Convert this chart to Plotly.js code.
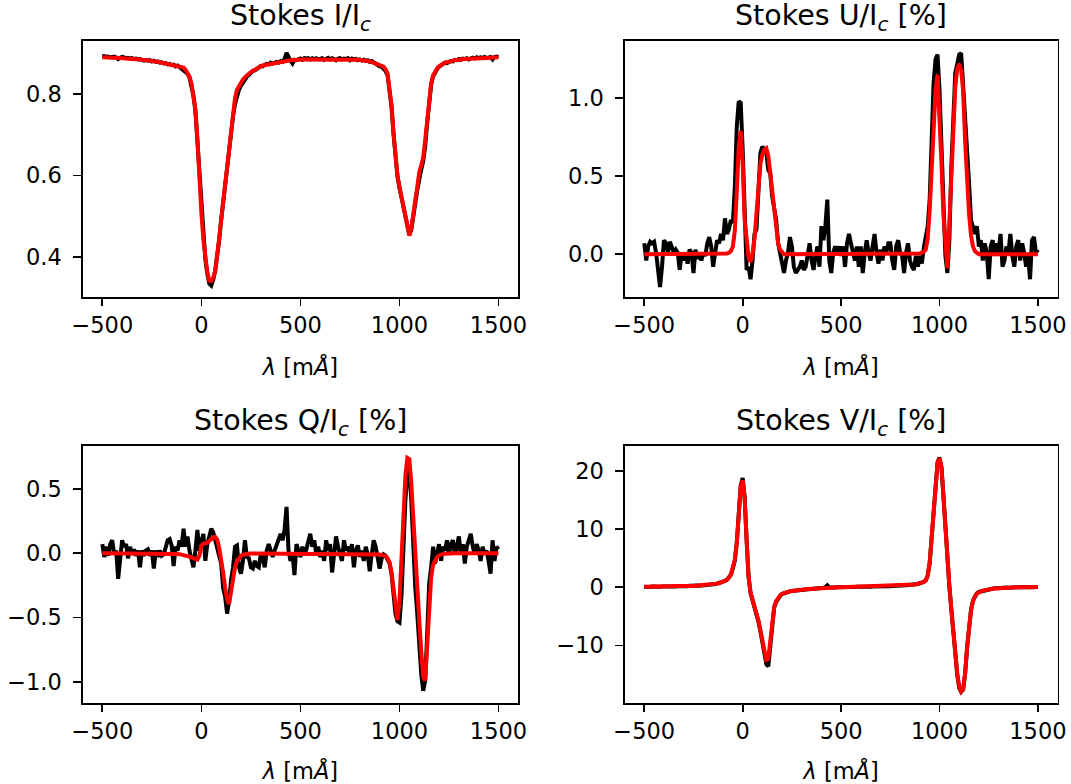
<!DOCTYPE html>
<html>
<head>
<meta charset="utf-8">
<script src="https://cdn.plot.ly/plotly-3.0.1.min.js"></script>
<style>
html,body{margin:0;padding:0;background:#fff;}
#chart{width:1071px;height:784px;}
</style>
</head>
<body>
<div id="chart"></div>
<script>
// Wavelength grid: -500 ... 1500 mÅ, sampled every 10 mÅ (201 samples)
const LAMBDA_START = -500;
const LAMBDA_STEP = 10;
const X_TICKS = [-500, 0, 500, 1000, 1500];

// Stokes I/Ic — observed (black) and fit (red)
const I_obs = [
0.891,0.892,0.890,0.891,0.889,0.890,0.891,0.889,0.885,0.888,
0.890,0.889,0.887,0.888,0.886,0.887,0.885,0.886,0.884,0.885,
0.884,0.881,0.883,0.881,0.882,0.879,0.881,0.878,0.879,0.876,
0.877,0.874,0.875,0.872,0.873,0.870,0.871,0.867,0.869,0.865,
0.864,0.860,0.856,0.849,0.840,0.822,0.795,0.757,0.684,0.585,
0.505,0.440,0.395,0.360,0.336,0.331,0.345,0.368,0.400,0.442,
0.492,0.537,0.575,0.618,0.660,0.703,0.745,0.775,0.797,0.810,
0.820,0.828,0.834,0.842,0.846,0.851,0.856,0.857,0.862,0.864,
0.868,0.867,0.871,0.873,0.872,0.876,0.874,0.877,0.878,0.876,
0.880,0.878,0.885,0.900,0.888,0.881,0.874,0.883,0.882,0.885,
0.886,0.883,0.887,0.886,0.887,0.884,0.887,0.885,0.887,0.884,
0.886,0.887,0.883,0.886,0.888,0.884,0.887,0.885,0.882,0.886,
0.887,0.884,0.886,0.885,0.887,0.882,0.886,0.884,0.885,0.882,
0.884,0.881,0.883,0.880,0.882,0.878,0.880,0.877,0.873,0.870,
0.867,0.866,0.862,0.856,0.845,0.805,0.768,0.702,0.648,0.598,
0.570,0.545,0.520,0.496,0.470,0.455,0.468,0.495,0.532,0.565,
0.598,0.615,0.635,0.672,0.728,0.778,0.822,0.843,0.854,0.860,
0.866,0.870,0.872,0.876,0.875,0.879,0.880,0.879,0.883,0.882,
0.885,0.883,0.886,0.885,0.887,0.884,0.887,0.888,0.886,0.889,
0.887,0.889,0.888,0.890,0.887,0.889,0.890,0.884,0.890,0.891,
0.890];
const I_fit = [
0.889,0.889,0.889,0.889,0.888,0.888,0.888,0.888,0.887,0.887,
0.887,0.887,0.886,0.886,0.886,0.885,0.885,0.885,0.884,0.884,
0.883,0.883,0.882,0.882,0.881,0.880,0.880,0.879,0.878,0.877,
0.876,0.875,0.874,0.873,0.872,0.871,0.870,0.869,0.868,0.867,
0.866,0.864,0.859,0.852,0.842,0.826,0.800,0.762,0.690,0.590,
0.510,0.444,0.400,0.364,0.343,0.342,0.350,0.366,0.405,0.447,
0.497,0.540,0.577,0.617,0.663,0.710,0.758,0.790,0.810,0.820,
0.830,0.835,0.840,0.846,0.849,0.853,0.856,0.859,0.863,0.865,
0.867,0.869,0.870,0.872,0.873,0.874,0.875,0.876,0.877,0.878,
0.879,0.879,0.880,0.881,0.881,0.882,0.882,0.883,0.883,0.883,
0.884,0.884,0.884,0.885,0.885,0.885,0.885,0.885,0.885,0.885,
0.885,0.885,0.885,0.885,0.885,0.885,0.885,0.885,0.885,0.885,
0.885,0.885,0.885,0.885,0.885,0.884,0.884,0.884,0.884,0.883,
0.883,0.882,0.882,0.881,0.880,0.879,0.878,0.876,0.874,0.872,
0.870,0.868,0.866,0.860,0.850,0.810,0.772,0.705,0.650,0.600,
0.573,0.549,0.525,0.501,0.475,0.453,0.472,0.500,0.540,0.572,
0.608,0.625,0.644,0.687,0.738,0.785,0.825,0.845,0.856,0.862,
0.867,0.871,0.874,0.876,0.877,0.879,0.880,0.881,0.882,0.883,
0.884,0.884,0.885,0.885,0.885,0.886,0.886,0.886,0.886,0.887,
0.887,0.887,0.887,0.888,0.888,0.888,0.888,0.888,0.889,0.889,
0.889];

// Stokes U/Ic [%]
const U_obs = [
0.07,-0.04,0.05,0.08,0.07,0.08,0.01,-0.12,-0.21,-0.08,
0.09,0.07,0.01,0.08,0.04,0.01,0.03,0.01,-0.10,0.01,
-0.04,0.01,-0.06,0.03,0.01,-0.12,0.03,-0.03,0.00,-0.04,
0.01,-0.01,0.07,0.11,0.05,-0.08,0.01,0.09,0.07,0.13,
0.09,0.23,0.13,0.16,0.22,0.20,0.43,0.82,0.98,0.97,
0.67,0.20,-0.10,-0.08,-0.16,-0.04,0.13,0.16,0.41,0.65,
0.69,0.67,0.65,0.54,0.52,0.37,0.28,0.22,0.07,0.01,
-0.08,-0.12,-0.04,0.01,0.11,0.05,-0.08,-0.12,-0.10,-0.08,
-0.04,-0.10,-0.08,-0.01,0.07,-0.04,-0.10,-0.01,0.05,-0.08,
0.18,0.09,0.18,0.35,-0.04,-0.12,0.01,0.05,0.01,0.05,
-0.01,0.05,-0.08,0.07,0.13,0.07,0.01,-0.04,0.05,-0.08,
0.05,-0.12,0.01,0.09,0.01,-0.04,0.05,0.13,0.01,-0.06,
0.03,-0.04,0.05,0.01,0.07,0.07,-0.04,-0.10,0.05,0.09,
0.01,-0.01,-0.12,0.01,0.07,-0.04,-0.08,-0.10,-0.01,-0.08,
-0.01,-0.06,0.04,0.11,0.18,0.35,0.69,1.10,1.25,1.28,
1.05,0.63,0.20,-0.01,-0.12,0.09,0.56,0.95,1.16,1.22,
1.28,1.29,1.10,0.84,0.67,0.46,0.22,0.18,0.13,0.18,
0.05,0.09,-0.04,0.07,0.01,-0.16,0.05,0.09,-0.01,0.07,
0.01,0.13,-0.08,-0.04,0.05,0.01,0.13,-0.01,-0.08,0.05,
0.09,-0.04,0.07,0.01,-0.08,-0.01,-0.16,0.09,0.11,0.01,
0.03];
const U_fit = [
0,0,0,0,0,0,0,0,0,0,
0,0,0,0,0,0,0,0,0,0,
0,0,0,0,0,0,0,0,0,0,
0,0,0,0,0,0,0,0,0,0,
0,0.002,0.005,0.01,0.02,0.05,0.15,0.40,0.69,0.79,
0.58,0.22,0.06,-0.02,-0.05,0.00,0.10,0.28,0.47,0.58,
0.64,0.67,0.68,0.63,0.52,0.40,0.26,0.14,0.07,0.03,
0.01,0,0,0,0,0,0,0,0,0,
0,0,0,0,0,0,0,0,0,0,
0,0,0,0,0,0,0,0,0,0,
0,0,0,0,0,0,0,0,0,0,
0,0,0,0,0,0,0,0,0,0,
0,0,0,0,0,0,0,0,0,0,
0,0,0,0,0,0,0,0,0,0,
0.005,0.01,0.015,0.03,0.10,0.28,0.52,0.82,1.05,1.15,
0.92,0.58,0.25,0.05,-0.09,0.20,0.52,0.82,1.07,1.19,
1.22,1.18,1.05,0.73,0.46,0.26,0.12,0.05,0.02,0.01,
0,0,0,0,0,0,0,0,0,0,
0,0,0,0,0,0,0,0,0,0,
0,0,0,0,0,0,0,0,0,0,
0];

// Stokes Q/Ic [%]
const Q_obs = [
0.07,-0.03,0.05,-0.02,0.07,0.10,-0.01,0.02,-0.20,-0.06,
0.10,0.05,0.07,-0.04,0.05,-0.01,0.03,-0.02,0.02,-0.11,
0.02,-0.02,0.02,0.03,-0.02,0.02,-0.12,0.02,-0.03,0.02,
-0.02,-0.01,0.05,0.10,0.11,0.06,-0.10,0.05,0.02,0.10,
0.05,0.19,0.05,0.13,0.02,-0.06,-0.11,0.02,0.18,0.02,
0.10,0.15,-0.06,0.07,0.13,0.19,0.16,0.10,0.05,-0.03,
-0.08,-0.27,-0.34,-0.47,-0.37,-0.21,-0.11,0.05,0.06,-0.11,
-0.16,-0.06,0.10,-0.03,-0.04,-0.11,-0.12,-0.06,-0.10,-0.11,
-0.01,-0.03,-0.11,0.02,0.07,0.02,-0.03,0.02,0.07,0.12,
0.15,0.10,0.18,0.36,0.02,-0.06,-0.01,-0.17,0.07,0.02,
-0.03,0.05,-0.01,0.03,0.10,0.15,0.05,0.10,-0.01,0.05,
-0.03,0.02,-0.06,0.10,0.02,0.07,-0.15,0.02,0.13,0.05,
-0.01,-0.06,0.10,0.02,0.05,-0.01,0.07,-0.11,0.02,0.06,
-0.03,0.02,-0.06,0.05,-0.01,-0.14,-0.01,0.10,0.05,-0.06,
-0.12,-0.04,-0.01,-0.02,-0.06,-0.08,-0.16,-0.29,-0.47,-0.53,
-0.54,-0.34,0.10,0.41,0.62,0.66,0.40,0.00,-0.27,-0.47,
-0.73,-0.94,-1.07,-0.99,-0.63,-0.24,-0.11,0.05,-0.08,0.02,
0.07,-0.06,0.05,0.02,0.10,-0.01,0.07,0.10,-0.01,0.05,
0.13,-0.01,0.07,-0.08,0.05,0.10,0.15,0.05,-0.01,0.07,
0.02,-0.06,0.05,-0.01,0.02,-0.06,-0.16,0.10,-0.06,0.05,
0.03];
const Q_fit = [
0,0,0,0,0,0,0,0,0,0,
0,0,0,0,0,0,0,0,0,0,
0,0,0,0,0,0,0,0,0,0,
0,0,-0.001,-0.002,-0.002,-0.003,-0.004,-0.005,-0.007,-0.008,
-0.010,-0.013,-0.018,-0.023,-0.028,-0.034,-0.040,-0.048,-0.050,-0.020,
0.060,0.075,0.075,0.080,0.095,0.110,0.122,0.125,0.105,0.040,
-0.040,-0.150,-0.270,-0.360,-0.395,-0.310,-0.190,-0.110,-0.065,-0.035,
-0.020,-0.012,-0.008,-0.005,-0.004,-0.003,-0.003,-0.003,-0.003,-0.003,
-0.003,-0.003,-0.003,-0.003,-0.003,-0.003,-0.003,-0.003,-0.003,-0.003,
-0.003,-0.003,-0.003,-0.003,-0.003,-0.003,-0.003,-0.003,-0.003,-0.003,
-0.003,-0.003,-0.003,-0.003,-0.003,-0.003,-0.003,-0.003,-0.003,-0.003,
-0.003,-0.003,-0.003,-0.003,-0.003,-0.003,-0.003,-0.003,-0.003,-0.003,
-0.003,-0.003,-0.003,-0.003,-0.003,-0.003,-0.003,-0.003,-0.003,-0.003,
-0.003,-0.003,-0.003,-0.003,-0.003,-0.003,-0.003,-0.003,-0.005,-0.007,
-0.010,-0.013,-0.017,-0.022,-0.040,-0.070,-0.150,-0.290,-0.450,-0.520,
-0.380,-0.030,0.350,0.600,0.740,0.730,0.540,0.250,-0.060,-0.280,
-0.520,-0.760,-0.960,-0.990,-0.760,-0.420,-0.190,-0.090,-0.050,-0.030,
-0.018,-0.010,-0.006,-0.004,-0.002,0,0,0,0,0,
0,0,0,0,0,0,0,0,0,0,
0,0,0,0,0,0,0,0,0,0,
0];

// Stokes V/Ic [%]
const V_obs = [
0.05,0.12,0.08,0.10,0.14,0.09,0.11,0.15,0.10,0.13,
0.11,0.16,0.12,0.15,0.13,0.17,0.14,0.19,0.16,0.20,
0.18,0.22,0.20,0.25,0.22,0.27,0.25,0.30,0.28,0.34,
0.33,0.39,0.40,0.46,0.47,0.53,0.56,0.65,0.69,0.80,
0.93,1.12,1.28,1.63,2.15,3.25,4.60,7.70,12.70,17.50,
18.80,15.40,8.00,1.70,-1.00,-2.10,-3.20,-4.40,-5.90,-7.60,
-9.40,-11.40,-13.20,-13.60,-9.80,-5.80,-3.50,-2.50,-1.90,-1.50,
-1.15,-1.00,-0.88,-0.78,-0.70,-0.63,-0.58,-0.52,-0.48,-0.44,
-0.41,-0.36,-0.35,-0.30,-0.29,-0.24,-0.24,-0.20,-0.20,-0.16,
-0.16,-0.10,0.05,0.35,-0.05,-0.10,-0.02,-0.05,-0.01,-0.02,
0.02,0.00,0.03,0.01,0.05,0.03,0.05,0.04,0.08,0.06,
0.09,0.07,0.10,0.09,0.12,0.10,0.13,0.12,0.16,0.14,
0.17,0.16,0.20,0.18,0.22,0.20,0.24,0.23,0.27,0.26,
0.30,0.29,0.34,0.33,0.39,0.39,0.45,0.46,0.54,0.57,
0.68,0.74,0.93,1.18,2.05,4.15,8.60,13.50,18.10,21.50,
22.30,20.60,15.70,9.70,4.50,0.20,-3.80,-7.90,-11.80,-15.00,
-17.30,-18.00,-17.60,-14.90,-10.40,-6.70,-3.90,-2.30,-1.45,-1.05,
-0.80,-0.72,-0.55,-0.50,-0.38,-0.35,-0.27,-0.25,-0.18,-0.18,
-0.12,-0.13,-0.08,-0.09,-0.05,-0.06,-0.02,-0.04,0.00,-0.01,
0.02,-0.01,0.03,0.00,0.04,0.01,0.05,0.02,0.05,0.03,
0.06];
const V_fit = [
0.10,0.10,0.10,0.11,0.11,0.11,0.12,0.12,0.12,0.13,
0.13,0.14,0.14,0.15,0.15,0.16,0.17,0.17,0.18,0.19,
0.20,0.21,0.22,0.23,0.24,0.26,0.27,0.29,0.31,0.33,
0.35,0.38,0.41,0.44,0.48,0.52,0.57,0.63,0.70,0.78,
0.95,1.10,1.30,1.60,2.20,3.20,4.70,7.60,12.80,17.30,
18.40,15.50,8.10,1.80,-0.90,-2.00,-3.10,-4.30,-5.70,-7.40,
-9.10,-10.90,-12.50,-12.30,-9.30,-5.60,-3.40,-2.40,-1.80,-1.40,
-1.10,-0.95,-0.85,-0.75,-0.68,-0.62,-0.56,-0.51,-0.47,-0.43,
-0.40,-0.37,-0.34,-0.31,-0.28,-0.25,-0.23,-0.21,-0.19,-0.17,
-0.15,-0.13,-0.11,-0.09,-0.07,-0.06,-0.04,-0.03,-0.02,-0.01,
0.00,0.01,0.02,0.02,0.03,0.04,0.04,0.05,0.06,0.07,
0.07,0.08,0.09,0.10,0.10,0.11,0.12,0.13,0.14,0.15,
0.16,0.17,0.18,0.19,0.20,0.21,0.22,0.24,0.25,0.27,
0.28,0.30,0.32,0.34,0.37,0.40,0.43,0.47,0.52,0.58,
0.65,0.75,0.90,1.20,2.00,4.20,8.50,13.50,18.00,21.40,
22.20,20.70,15.60,9.80,4.40,0.30,-3.70,-7.80,-11.60,-14.80,
-17.10,-17.90,-17.50,-14.80,-10.50,-6.80,-4.00,-2.40,-1.50,-1.10,
-0.85,-0.70,-0.58,-0.48,-0.40,-0.34,-0.29,-0.24,-0.20,-0.17,
-0.14,-0.12,-0.10,-0.08,-0.06,-0.05,-0.04,-0.03,-0.02,-0.01,
0.00,0.00,0.01,0.01,0.02,0.02,0.03,0.03,0.04,0.04,
0.05];

const PANEL_TITLES = [
  'Stokes I/I<sub><i>c</i></sub>',
  'Stokes U/I<sub><i>c</i></sub> [%]',
  'Stokes Q/I<sub><i>c</i></sub> [%]',
  'Stokes V/I<sub><i>c</i></sub> [%]'
];
const X_TITLE = '<i>λ</i> [m<i>Å</i>]';

const FONT = 'DejaVu Sans, Liberation Sans, sans-serif';
const W = 1071, H = 784;

// panel boxes in pixels [left, right, top, bottom]
const BOX = {
  I: [82.5, 518.3, 41, 297],
  U: [624.6, 1057.6, 41, 297],
  Q: [82.5, 518.3, 446, 703],
  V: [624.6, 1057.6, 446, 703]
};
const dx = b => [b[0]/W, b[1]/W];
const dy = b => [(H-b[3])/H, (H-b[2])/H];

function lineTrace(values, color, xa, ya) {
  return {
    type: 'scatter', mode: 'lines',
    x0: LAMBDA_START, dx: LAMBDA_STEP, y: values,
    xaxis: xa, yaxis: ya,
    line: {color: color, width: 4},
    hoverinfo: 'skip', showlegend: false
  };
}

const traces = [
  lineTrace(I_obs, '#000000', 'x', 'y'),
  lineTrace(I_fit, '#ff0000', 'x', 'y'),
  lineTrace(U_obs, '#000000', 'x2', 'y2'),
  lineTrace(U_fit, '#ff0000', 'x2', 'y2'),
  lineTrace(Q_obs, '#000000', 'x3', 'y3'),
  lineTrace(Q_fit, '#ff0000', 'x3', 'y3'),
  lineTrace(V_obs, '#000000', 'x4', 'y4'),
  lineTrace(V_fit, '#ff0000', 'x4', 'y4')
];

const tickFont = {family: FONT, size: 22.5, color: '#000'};
const common = {
  ticks: 'outside', ticklen: 7.5, tickwidth: 1.7, tickcolor: '#000',
  showline: true, linecolor: '#000', linewidth: 1.7, mirror: true,
  showgrid: false, zeroline: false, tickfont: tickFont, automargin: false
};
function xAxis(box, anchor) {
  return Object.assign({}, common, {
    domain: dx(box), anchor: anchor, range: [-600, 1600],
    tickmode: 'array', tickvals: X_TICKS,
    title: {text: X_TITLE, font: {family: FONT, size: 22.5, color: '#000'}, standoff: 22}
  });
}
function yAxis(box, anchor, range, tickvals, fmt) {
  return Object.assign({}, common, {
    domain: dy(box), anchor: anchor, range: range,
    tickmode: 'array', tickvals: tickvals, tickformat: fmt,
    ticklabelstandoff: 7
  });
}

const boxes = [BOX.I, BOX.U, BOX.Q, BOX.V];
const annotations = boxes.map((b, i) => ({
  text: PANEL_TITLES[i], xref: 'paper', yref: 'paper',
  x: (b[0] + b[1]) / 2 / W, y: (H - b[2]) / H,
  xanchor: 'center', yanchor: 'bottom', yshift: 3, showarrow: false,
  font: {family: FONT, size: 28.5, color: '#000'}
}));

const layout = {
  width: W, height: H,
  margin: {l: 0, r: 0, t: 0, b: 0, pad: 0},
  paper_bgcolor: '#ffffff', plot_bgcolor: '#ffffff',
  showlegend: false,
  font: {family: FONT, color: '#000'},
  xaxis: xAxis(BOX.I, 'y'),
  yaxis: yAxis(BOX.I, 'x', [0.303, 0.929], [0.4, 0.6, 0.8], '.1f'),
  xaxis2: xAxis(BOX.U, 'y2'),
  yaxis2: yAxis(BOX.U, 'x2', [-0.274, 1.367], [0, 0.5, 1.0], '.1f'),
  xaxis3: xAxis(BOX.Q, 'y3'),
  yaxis3: yAxis(BOX.Q, 'x3', [-1.165, 0.833], [-1.0, -0.5, 0, 0.5], '.1f'),
  xaxis4: xAxis(BOX.V, 'y4'),
  yaxis4: yAxis(BOX.V, 'x4', [-19.9, 24.3], [-10, 0, 10, 20], 'd'),
  annotations: annotations
};

Plotly.newPlot('chart', traces, layout, {staticPlot: true, displayModeBar: false});
</script>
</body>
</html>
